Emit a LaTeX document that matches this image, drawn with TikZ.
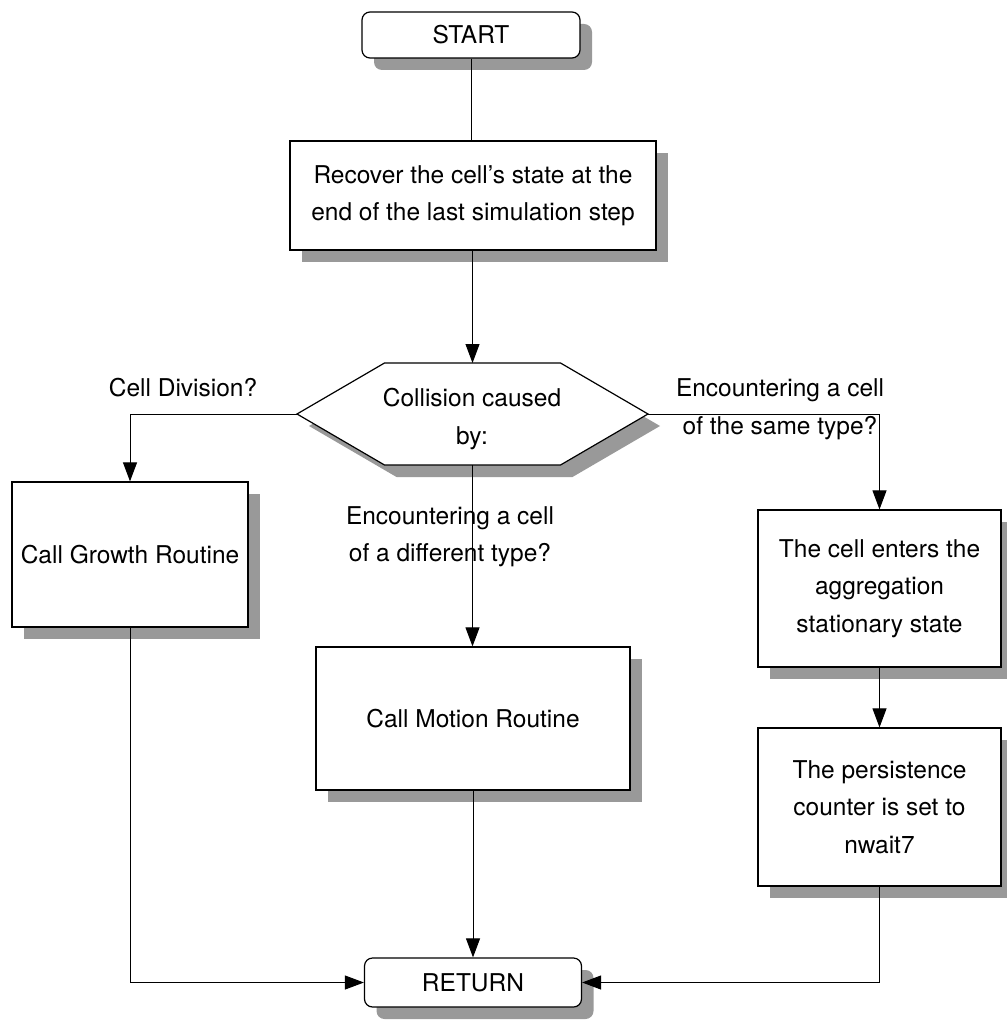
\documentclass[tikz,border=0pt]{standalone}
\usepackage{fontspec}
\setmainfont{TeX Gyre Heros}
\usetikzlibrary{arrows.meta,shadows}
\begin{document}
\begin{tikzpicture}[x=0.5pt,y=-0.5pt,
  txt/.style={font=\fontsize{12.25pt}{18.75pt}\selectfont, align=center, inner sep=0pt},
  shade/.style={fill=black!40, draw=none},
  procbox/.style={txt, draw, line width=0.6pt, fill=white,
    drop shadow={shadow xshift=6pt, shadow yshift=-6pt, fill=black!40, opacity=1}},
  termbox/.style={procbox, rounded corners=4pt},
  link/.style={line width=0.5pt},
  flow/.style={link, -{Triangle[length=9.5pt, width=7pt]}}]
\useasboundingbox (0,0) rectangle (1006,1021);

% terminal boxes
\node[termbox, minimum width=109pt, minimum height=23pt] (start) at (471,35) {START};
\node[termbox, minimum width=108.5pt, minimum height=24.5pt] (ret) at (473,982.5) {RETURN};

% first process step
\node[procbox, minimum width=183pt, minimum height=54.5pt] (recover) at (473,195.5)
  {Recover the cell's state at the\\end of the last simulation step};

% decision hexagon, drawn as a path with its shadow
\coordinate (hexT) at (472.5,363);
\coordinate (hexB) at (472.5,465);
\coordinate (hexL) at (297,414);
\coordinate (hexR) at (648,414);
\path[shade, shift={(12,12)}] (297,414) -- (384.5,363) -- (560.5,363) -- (648,414)
  -- (560.5,465) -- (384.5,465) -- cycle;
\draw[line width=0.6pt, fill=white] (hexL) -- (384.5,363) -- (560.5,363) -- (hexR)
  -- (560.5,465) -- (384.5,465) -- cycle;
\node[txt] (decide) at (472,419) {Collision caused\\by:};

% branch boxes
\node[procbox, minimum width=118pt, minimum height=72.5pt] (growth) at (130,554.5)
  {Call Growth Routine};
\node[procbox, minimum width=157pt, minimum height=71.5pt] (motion) at (473,718.5)
  {Call Motion Routine};
\node[procbox, minimum width=121.5pt, minimum height=78.5pt] (aggreg) at (879.5,588.5)
  {The cell enters the\\aggregation\\stationary state};
\node[procbox, minimum width=121.5pt, minimum height=79pt] (persist) at (879.5,807)
  {The persistence\\counter is set to\\nwait7};

% branch labels
\node[txt] (lbldiv) at (183,388) {Cell Division?};
\node[txt] (lblsame) at (780,409) {Encountering a cell\\of the same type?};
\node[txt] (lbldiff) at (450,536.5) {Encountering a cell\\of a different type?};

% connectors
\draw[link] (start.south) -- (start.south |- recover.north);
\draw[flow] (recover.south -| hexT) -- (hexT);
\draw[flow] (hexL) -| (growth.north);
\draw[flow] (hexB) -- (hexB |- motion.north);
\draw[flow] (hexR) -| (aggreg.north);
\draw[flow] (aggreg.south) -- (persist.north);
\draw[flow] (growth.south) |- (ret.west);
\draw[flow] (motion.south) -- (ret.north);
\draw[flow] (persist.south) |- (ret.east);
\end{tikzpicture}
\end{document}
